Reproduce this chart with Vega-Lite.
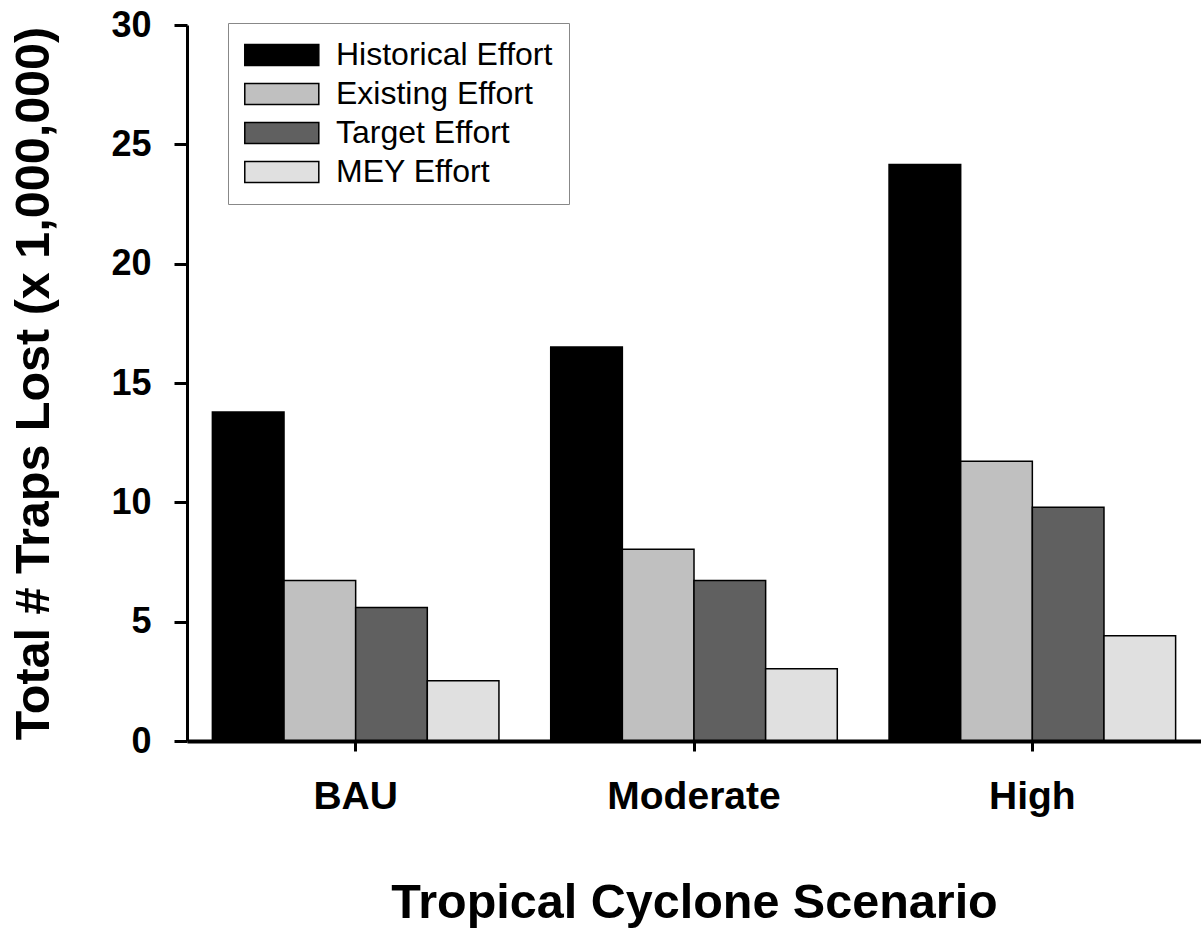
{
  "$schema": "https://vega.github.io/schema/vega-lite/v6.json",
  "width": 1014,
  "height": 716,
  "autosize": {"type": "none"},
  "padding": {"left": 187, "top": 25, "right": 0, "bottom": 193},
  "background": "white",
  "data": {
    "values": [
      {"scenario": "BAU", "effort": "Historical Effort", "value": 13.78},
      {"scenario": "BAU", "effort": "Existing Effort", "value": 6.72},
      {"scenario": "BAU", "effort": "Target Effort", "value": 5.59},
      {"scenario": "BAU", "effort": "MEY Effort", "value": 2.52},
      {"scenario": "Moderate", "effort": "Historical Effort", "value": 16.51},
      {"scenario": "Moderate", "effort": "Existing Effort", "value": 8.03},
      {"scenario": "Moderate", "effort": "Target Effort", "value": 6.72},
      {"scenario": "Moderate", "effort": "MEY Effort", "value": 3.03},
      {"scenario": "High", "effort": "Historical Effort", "value": 24.16},
      {"scenario": "High", "effort": "Existing Effort", "value": 11.72},
      {"scenario": "High", "effort": "Target Effort", "value": 9.79},
      {"scenario": "High", "effort": "MEY Effort", "value": 4.41}
    ]
  },
  "mark": {"type": "bar", "stroke": "black", "strokeWidth": 1.5},
  "encoding": {
    "x": {
      "field": "scenario",
      "type": "nominal",
      "sort": ["BAU", "Moderate", "High"],
      "scale": {"paddingInner": 0.153, "paddingOuter": 0.075},
      "axis": {
        "title": "Tropical Cyclone Scenario",
        "labelAngle": 0,
        "labelFont": "Liberation Sans",
        "labelFontWeight": "bold",
        "labelFontSize": 39,
        "labelColor": "black",
        "labelPadding": 26,
        "labelLimit": 0,
        "tickSize": 10,
        "tickWidth": 3,
        "tickColor": "black",
        "domainColor": "black",
        "domainWidth": 4,
        "titleFont": "Liberation Sans",
        "titleFontWeight": "bold",
        "titleFontSize": 48.5,
        "titleColor": "black",
        "titlePadding": 63,
        "titleLimit": 0,
        "zindex": 1
      }
    },
    "xOffset": {
      "field": "effort",
      "type": "nominal",
      "sort": ["Historical Effort", "Existing Effort", "Target Effort", "MEY Effort"],
      "scale": {"paddingInner": 0, "paddingOuter": 0}
    },
    "y": {
      "field": "value",
      "type": "quantitative",
      "scale": {"domain": [0, 30], "nice": false},
      "axis": {
        "title": "Total # Traps Lost (x 1,000,000)",
        "values": [0, 5, 10, 15, 20, 25, 30],
        "grid": false,
        "labelFont": "Liberation Sans",
        "labelFontWeight": "bold",
        "labelFontSize": 36,
        "labelColor": "black",
        "labelPadding": 23,
        "tickSize": 13,
        "tickWidth": 3,
        "tickColor": "black",
        "domainColor": "black",
        "domainWidth": 3,
        "titleFont": "Liberation Sans",
        "titleFontWeight": "bold",
        "titleFontSize": 48.5,
        "titleColor": "black",
        "titlePadding": 52,
        "titleLimit": 0,
        "zindex": 1
      }
    },
    "color": {
      "field": "effort",
      "type": "nominal",
      "scale": {
        "domain": ["Historical Effort", "Existing Effort", "Target Effort", "MEY Effort"],
        "range": ["#000000", "#c0c0c0", "#606060", "#e0e0e0"]
      },
      "legend": {
        "title": null,
        "orient": "none",
        "legendX": 41,
        "legendY": -2,
        "padding": 16,
        "strokeColor": "#888888",
        "fillColor": "white",
        "labelFont": "Liberation Sans",
        "labelFontSize": 32,
        "labelColor": "black",
        "labelOffset": 60,
        "labelLimit": 0,
        "rowPadding": 7,
        "symbolType": "M-1.45,-1H5.6V1H-1.45Z",
        "symbolSize": 441,
        "symbolStrokeColor": "black",
        "symbolStrokeWidth": 1.5,
        "symbolOpacity": 1
      }
    }
  },
  "config": {
    "view": {"stroke": null}
  }
}
